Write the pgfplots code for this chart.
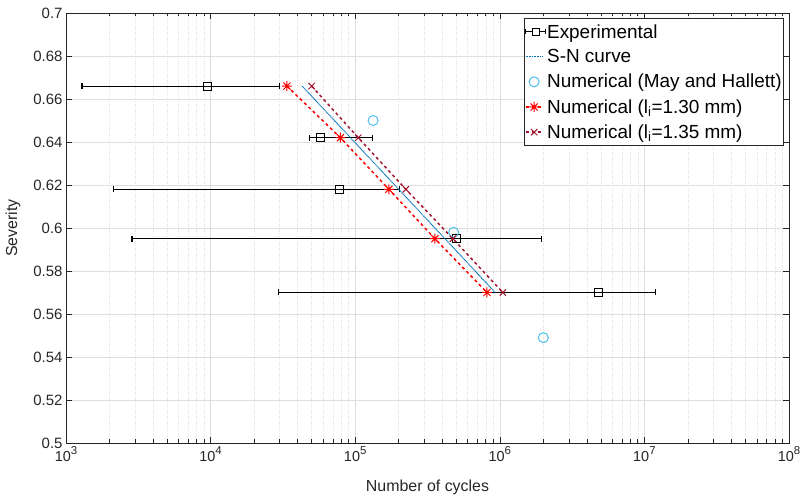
\documentclass[border=0pt]{standalone}
\usepackage{fontspec}
\setmainfont{Liberation Sans}
\usepackage{pgfplots}
\pgfplotsset{compat=1.18}
\definecolor{snblue}{rgb}{0,0.447,0.741}
\definecolor{circblue}{rgb}{0.30,0.745,0.933}
\definecolor{darkred}{rgb}{0.635,0.078,0.184}
\definecolor{axgray}{rgb}{0.15,0.15,0.15}
\pgfdeclareplotmark{mstar}{%
 \pgfpathmoveto{\pgfqpoint{-\pgfplotmarksize}{0pt}}\pgfpathlineto{\pgfqpoint{\pgfplotmarksize}{0pt}}%
 \pgfpathmoveto{\pgfqpoint{0pt}{-\pgfplotmarksize}}\pgfpathlineto{\pgfqpoint{0pt}{\pgfplotmarksize}}%
 \pgfpathmoveto{\pgfqpoint{-0.707\pgfplotmarksize}{-0.707\pgfplotmarksize}}\pgfpathlineto{\pgfqpoint{0.707\pgfplotmarksize}{0.707\pgfplotmarksize}}%
 \pgfpathmoveto{\pgfqpoint{-0.707\pgfplotmarksize}{0.707\pgfplotmarksize}}\pgfpathlineto{\pgfqpoint{0.707\pgfplotmarksize}{-0.707\pgfplotmarksize}}%
 \pgfusepathqstroke}
\newcommand{\tenp}[1]{10\raisebox{0.5em}{\fontsize{11.5}{11.5}\selectfont #1}}
\begin{document}
\begin{tikzpicture}
\begin{axis}[
  scale only axis, width=723bp, height=430bp,
  xmode=log, xmin=1e3, xmax=1e8, ymin=0.5, ymax=0.7,
  xtick={1e3,1e4,1e5,1e6,1e7,1e8},
  xticklabels={\tenp{3},\tenp{4},\tenp{5},\tenp{6},\tenp{7},\tenp{8}},
  ytick={0.5,0.52,0.54,0.56,0.58,0.6,0.62,0.64,0.66,0.68,0.7},
  /pgf/number format/assume math mode=true,
  yticklabel style={/pgf/number format/fixed, /pgf/number format/precision=2, font=\fontsize{15}{18}\selectfont, text=axgray},
  xticklabel style={font=\fontsize{14.5}{17}\selectfont, text=axgray},
  xmajorgrids, ymajorgrids, xminorgrids,
  major grid style={color=black!13, line width=0.6bp},
  minor grid style={color=black!13, line width=0.5bp, dash pattern=on 0.8bp off 1.6bp},
  tick align=inside,
  axis line style={axgray, line width=0.6bp},
  tick style={axgray, line width=0.6bp},
  major tick length=6bp, minor tick length=3.5bp,
  xlabel={Number of cycles}, ylabel={Severity},
  label style={font=\fontsize{16}{19}\selectfont, text=axgray},
  xlabel style={at={([yshift=-44bp]rel axis cs:0.5,0)}, anchor=center},
  ylabel style={at={([xshift=-53bp]rel axis cs:0,0.5)}, anchor=center},
  legend style={at={(rel axis cs:1,1)}, anchor=north east, xshift=-5bp, yshift=-5bp,
    font=\fontsize{19}{21.5}\selectfont, draw=axgray, line width=0.6bp, fill=white,
    inner xsep=1bp, inner ysep=4bp, row sep=6bp,
    nodes={inner xsep=1bp}},
  legend cell align=left,
]
\coordinate (O) at (rel axis cs:0,0);
\addplot[black, line width=1.1bp, only marks, mark=square, mark size=4bp,
  legend image code/.code={
  \draw[black, line width=1bp] (0bp,0bp)--(20bp,0bp);
  \draw[black, line width=1bp] (0bp,-2.5bp)--(0bp,2.5bp) (20bp,-2.5bp)--(20bp,2.5bp);
  \draw[black, line width=1bp, fill=white] (6.5bp,-3.5bp) rectangle (13.5bp,3.5bp);},
  error bars/.cd, x dir=both, x explicit,
  error bar style={line width=1.1bp, black},
  error mark options={rotate=90, mark size=3bp, line width=1.1bp, black}]
  coordinates {
  (9570,0.666) -= (8280,0) += (20430,0)
  (57700,0.642) -= (9300,0) += (74300,0)
  (78000,0.618) -= (75860,0) += (124000,0)
  (499000,0.595) -= (496140,0) += (1431000,0)
  (4840000,0.570) -= (4810400,0) += (7160000,0)
  };
\addplot[snblue, line width=1bp, dash pattern=on 1bp off 0.6bp] coordinates {(4.3e4,0.666) (9.3e5,0.570)};
\addplot[only marks, mark=o, circblue, mark size=5bp, line width=1bp] coordinates {(1.33e5,0.650) (4.8e5,0.598) (2.0e6,0.549)};
\addplot[red, line width=1.5bp, dash pattern=on 3bp off 3bp, mark=mstar, mark size=5bp, mark options={solid, line width=1bp}]
  coordinates {(3.37e4,0.666) (7.9e4,0.642) (1.71e5,0.618) (3.56e5,0.595) (8.15e5,0.570)};
\addplot[darkred, line width=1.5bp, dash pattern=on 3bp off 3bp, mark=x, mark size=4.5bp, mark options={solid, line width=1bp}]
  coordinates {(5.0e4,0.666) (1.05e5,0.642) (2.24e5,0.618) (4.74e5,0.595) (1.05e6,0.570)};
\legend{Experimental,S-N curve,Numerical (May and Hallett),Numerical (l\textsubscript{i}=1.30 mm),Numerical (l\textsubscript{i}=1.35 mm)}
\end{axis}
\pgfresetboundingbox
\path[use as bounding box] ([xshift=-66bp,yshift=-53bp]O) rectangle ++(802bp,496bp);
\end{tikzpicture}
\end{document}
